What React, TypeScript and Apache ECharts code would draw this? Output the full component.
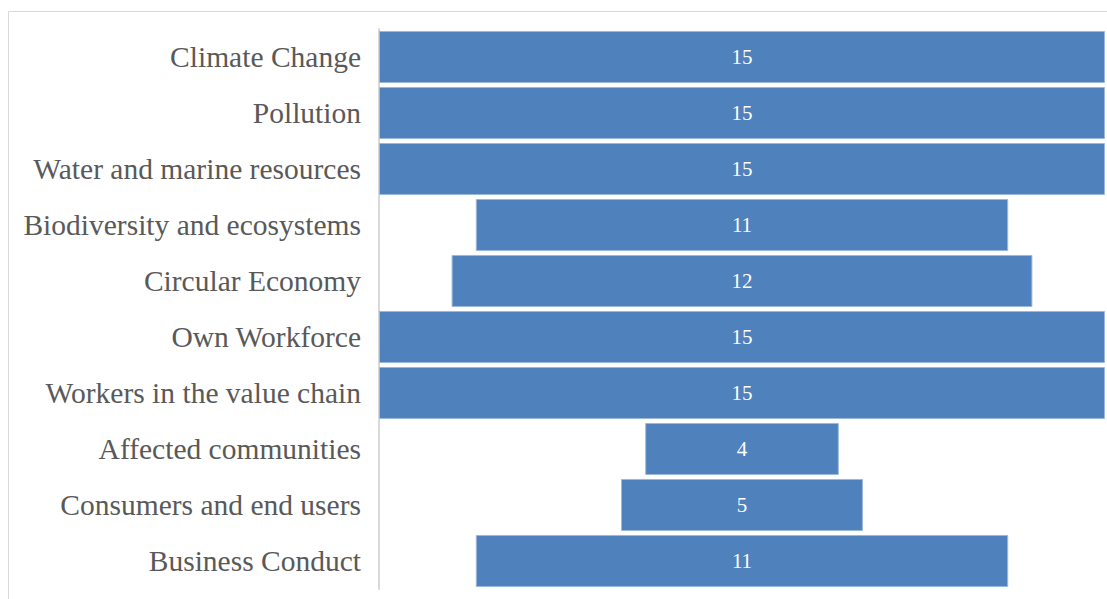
import React, { useEffect, useRef } from "react";
import * as echarts from "echarts";

const categories = [
  "Climate Change",
  "Pollution",
  "Water and marine resources",
  "Biodiversity and ecosystems",
  "Circular Economy",
  "Own Workforce",
  "Workers in the value chain",
  "Affected communities",
  "Consumers and end users",
  "Business Conduct",
];
const values = [15, 15, 15, 11, 12, 15, 15, 4, 5, 11];
const maxValue = 15;

export default function App() {
  const ref = useRef<HTMLDivElement>(null);
  useEffect(() => {
    const chart = echarts.init(ref.current!, null, { renderer: "svg" });
    const offsets = values.map((v) => (maxValue - v) / 2);
    chart.setOption({
      animation: false,
      backgroundColor: "#ffffff",
      graphic: [
        {
          type: "rect",
          shape: { x: 8.5, y: 11.5, width: 1200, height: 700 },
          style: { fill: "none", stroke: "#d9d9d9", lineWidth: 1 },
          silent: true,
          z: -1,
        },
      ],
      grid: { left: 379, right: 2, top: 29, bottom: 10, containLabel: false },
      xAxis: {
        type: "value",
        min: 0,
        max: maxValue,
        show: false,
      },
      yAxis: {
        type: "category",
        data: categories,
        inverse: true,
        axisLine: { show: true, lineStyle: { color: "#d9d9d9", width: 2 } },
        axisTick: { show: false },
        axisLabel: {
          color: "#595959",
          fontFamily: "Liberation Serif",
          fontSize: 29.5,
          margin: 18,
        },
      },
      series: [
        {
          type: "bar",
          stack: "s",
          data: offsets,
          itemStyle: { color: "transparent" },
          silent: true,
          barCategoryGap: "7%",
        },
        {
          type: "bar",
          stack: "s",
          data: values,
          barCategoryGap: "7%",
          itemStyle: { color: "#4f81bd", borderColor: "#9bb8dd", borderWidth: 1 },
          label: {
            show: true,
            position: "inside",
            color: "#ffffff",
            fontFamily: "Liberation Serif",
            fontSize: 21,
          },
        },
      ],
    });
    return () => chart.dispose();
  }, []);
  return (
    <div
      ref={ref}
      style={{ position: "fixed", left: 0, top: 0, width: 1107, height: 599 }}
    />
  );
}
